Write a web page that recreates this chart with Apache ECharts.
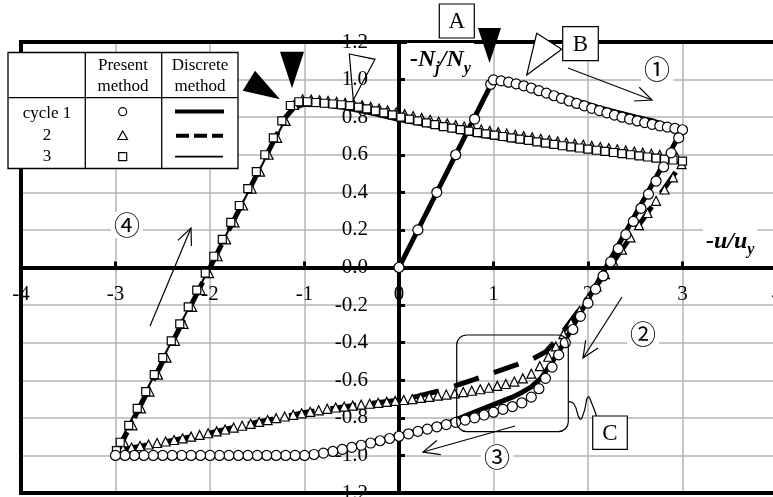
<!DOCTYPE html>
<html>
<head>
<meta charset="utf-8">
<script src="https://cdn.jsdelivr.net/npm/echarts/dist/echarts.min.js"></script>
<style>
html, body { margin: 0; padding: 0; background: #fff; }
#chart { width: 773px; height: 497px; }
</style>
</head>
<body>
<div id="chart"></div>
<script>
// Normalised displacement (-u/uy) and axial force (-Nj/Ny), cycle by cycle.

// Cycle 1, present method (circles)
const c1LoadU = [0, 0.2, 0.4, 0.6, 0.8, 0.97, 1.0];
const c1LoadN = [0, 0.2, 0.4, 0.6, 0.79, 0.975, 0.998];
const c1SoftU = [1.08, 1.16, 1.24, 1.32, 1.40, 1.48, 1.56, 1.64, 1.72, 1.80, 1.88, 1.96, 2.04, 2.12, 2.20, 2.28, 2.36, 2.44, 2.52, 2.60, 2.68, 2.76, 2.84, 2.92, 3.00];
const c1SoftN = [0.993, 0.986, 0.977, 0.967, 0.955, 0.941, 0.928, 0.914, 0.900, 0.886, 0.873, 0.860, 0.847, 0.835, 0.823, 0.811, 0.800, 0.790, 0.780, 0.771, 0.762, 0.754, 0.747, 0.740, 0.733];
const c1UnloadU = [2.96, 2.88, 2.80, 2.72, 2.64, 2.56, 2.48, 2.40, 2.32, 2.24, 2.16, 2.08, 2.00, 1.92, 1.84, 1.76, 1.69, 1.62, 1.55, 1.48, 1.40, 1.30, 1.20, 1.10, 1.00, 0.90, 0.80, 0.70, 0.60, 0.50, 0.40, 0.30, 0.20, 0.10, 0.00, -0.10, -0.20, -0.30, -0.40, -0.50, -0.60, -0.70, -0.80, -0.90];
const c1UnloadN = [0.69, 0.61, 0.535, 0.46, 0.39, 0.315, 0.245, 0.175, 0.10, 0.03, -0.045, -0.115, -0.19, -0.26, -0.33, -0.40, -0.465, -0.53, -0.59, -0.645, -0.69, -0.72, -0.74, -0.755, -0.77, -0.785, -0.80, -0.812, -0.824, -0.836, -0.848, -0.86, -0.872, -0.885, -0.898, -0.91, -0.922, -0.934, -0.946, -0.957, -0.968, -0.979, -0.988, -0.995];
const c1FloorU = [-1.0, -1.1, -1.2, -1.3, -1.4, -1.5, -1.6, -1.7, -1.8, -1.9, -2.0, -2.1, -2.2, -2.3, -2.4, -2.5, -2.6, -2.7, -2.8, -2.9, -3.0];
const c1FloorN = [-1.0, -1.0, -1.0, -1.0, -1.0, -1.0, -1.0, -1.0, -1.0, -1.0, -1.0, -1.0, -1.0, -1.0, -1.0, -1.0, -1.0, -1.0, -1.0, -1.0, -1.0];

// Cycle 2, present method (triangles)
const c2LeftU = [-2.98, -2.91, -2.82, -2.73, -2.64, -2.55, -2.46, -2.37, -2.28, -2.19, -2.10, -2.01, -1.92, -1.83, -1.74, -1.65, -1.56, -1.47, -1.38, -1.29, -1.20, -1.11];
const c2LeftN = [-0.99, -0.93, -0.84, -0.75, -0.66, -0.57, -0.48, -0.39, -0.30, -0.21, -0.12, -0.03, 0.06, 0.15, 0.24, 0.33, 0.42, 0.51, 0.60, 0.69, 0.78, 0.865];
const c2TopU = [-1.02, -0.93, -0.84, -0.75, -0.66, -0.57, -0.48, -0.39, -0.30, -0.21, -0.12, -0.03, 0.06, 0.15, 0.24, 0.33, 0.42, 0.51, 0.60, 0.69, 0.78, 0.87, 0.96, 1.05, 1.14, 1.23, 1.32, 1.41, 1.50, 1.59, 1.68, 1.77, 1.86, 1.95, 2.04, 2.13, 2.22, 2.31, 2.40, 2.49, 2.58, 2.67, 2.76, 2.85, 2.94];
const c2TopN = [0.895, 0.894, 0.89, 0.886, 0.881, 0.876, 0.87, 0.863, 0.855, 0.846, 0.836, 0.826, 0.816, 0.806, 0.796, 0.786, 0.776, 0.767, 0.758, 0.75, 0.742, 0.734, 0.727, 0.72, 0.713, 0.706, 0.699, 0.692, 0.685, 0.678, 0.671, 0.665, 0.659, 0.653, 0.647, 0.641, 0.635, 0.629, 0.623, 0.617, 0.611, 0.605, 0.599, 0.593, 0.587];
const c2DownU = [2.99, 2.90, 2.81, 2.72, 2.63, 2.54, 2.45, 2.36, 2.27, 2.18, 2.09, 2.00, 1.91, 1.82, 1.74, 1.66, 1.58, 1.49, 1.40, 1.31, 1.22, 1.13, 1.04, 0.95, 0.86, 0.77, 0.68, 0.59, 0.50, 0.41, 0.32, 0.23, 0.14, 0.05, -0.04, -0.13, -0.22, -0.31, -0.40, -0.49, -0.58, -0.67, -0.76, -0.85, -0.94, -1.03, -1.12, -1.21, -1.30, -1.39, -1.48, -1.57, -1.66, -1.75, -1.84, -1.93, -2.02, -2.11, -2.20, -2.29, -2.38, -2.47, -2.56, -2.65, -2.74, -2.83, -2.92, -2.99];
const c2DownN = [0.55, 0.48, 0.415, 0.355, 0.29, 0.225, 0.16, 0.095, 0.03, -0.035, -0.10, -0.165, -0.23, -0.295, -0.355, -0.42, -0.475, -0.525, -0.565, -0.59, -0.607, -0.62, -0.63, -0.64, -0.648, -0.656, -0.663, -0.67, -0.676, -0.682, -0.688, -0.694, -0.70, -0.705, -0.71, -0.715, -0.72, -0.725, -0.73, -0.735, -0.74, -0.745, -0.752, -0.76, -0.768, -0.776, -0.784, -0.793, -0.802, -0.812, -0.822, -0.832, -0.842, -0.852, -0.862, -0.872, -0.882, -0.891, -0.90, -0.909, -0.918, -0.926, -0.934, -0.942, -0.95, -0.958, -0.967, -0.975];

// Cycle 3, present method (squares)
const c3LeftU = [-2.99, -2.95, -2.86, -2.77, -2.68, -2.59, -2.50, -2.41, -2.32, -2.23, -2.14, -2.05, -1.96, -1.87, -1.78, -1.69, -1.60, -1.51, -1.42, -1.33, -1.24, -1.15];
const c3LeftN = [-0.975, -0.93, -0.84, -0.75, -0.66, -0.57, -0.48, -0.39, -0.30, -0.21, -0.12, -0.03, 0.06, 0.15, 0.24, 0.33, 0.42, 0.51, 0.60, 0.69, 0.78, 0.862];
const c3TopU = [-1.06, -0.97, -0.88, -0.79, -0.70, -0.61, -0.52, -0.43, -0.34, -0.25, -0.16, -0.07, 0.02, 0.11, 0.20, 0.29, 0.38, 0.47, 0.56, 0.65, 0.74, 0.83, 0.92, 1.01, 1.10, 1.19, 1.28, 1.37, 1.46, 1.55, 1.64, 1.73, 1.82, 1.91, 2.00, 2.09, 2.18, 2.27, 2.36, 2.45, 2.54, 2.63, 2.72, 2.81, 2.90, 3.00];
const c3TopN = [0.882, 0.882, 0.878, 0.874, 0.870, 0.866, 0.861, 0.853, 0.844, 0.834, 0.823, 0.812, 0.80, 0.79, 0.78, 0.77, 0.76, 0.75, 0.742, 0.734, 0.726, 0.718, 0.711, 0.704, 0.697, 0.69, 0.683, 0.676, 0.669, 0.662, 0.655, 0.648, 0.642, 0.636, 0.63, 0.624, 0.618, 0.612, 0.606, 0.60, 0.594, 0.588, 0.582, 0.577, 0.572, 0.566];

// Discrete method curves
const d1U = [0, 1.0, 1.1, 1.3, 1.5, 1.7, 1.9, 2.1, 2.3, 2.5, 2.7, 2.9, 3.0, 2.6, 2.2, 1.9, 1.7, 1.6, 1.5, 1.4, 1.3, 1.2, 1.0, 0.8, 0.6, 0.5, 0.3, 0.1, -0.1, -0.3, -0.5, -0.7, -0.9, -1.1, -3.0];
const d1N = [0, 1.0, 0.993, 0.972, 0.945, 0.915, 0.883, 0.853, 0.826, 0.801, 0.778, 0.745, 0.735, 0.37, 0.01, -0.26, -0.44, -0.52, -0.59, -0.635, -0.665, -0.69, -0.73, -0.77, -0.81, -0.83, -0.858, -0.883, -0.908, -0.932, -0.955, -0.977, -0.993, -1.0, -1.0];
const d2U = [-3.0, -1.2, -1.1, -1.0, -0.8, -0.5, 0, 0.5, 1.0, 1.5, 2.0, 2.5, 3.0, 2.6, 2.2, 1.9, 1.7, 1.55, 1.4, 1.2, 1.0, 0.8, 0.6, 0.4, 0.2, 0, -0.5, -1.0, -1.5, -2.0, -2.5, -3.0];
const d2N = [-1.0, 0.80, 0.86, 0.875, 0.87, 0.85, 0.79, 0.745, 0.705, 0.668, 0.633, 0.60, 0.56, 0.27, -0.02, -0.23, -0.365, -0.45, -0.49, -0.525, -0.56, -0.595, -0.628, -0.66, -0.685, -0.705, -0.735, -0.772, -0.823, -0.88, -0.93, -0.975];
const d3U = [-3.0, -1.2, -1.1, -1.0, -0.8, -0.6, -0.3, 0, 0.3, 0.65, 1.0, 1.5, 2.0, 2.5, 3.0];
const d3N = [-0.975, 0.79, 0.845, 0.86, 0.858, 0.845, 0.815, 0.78, 0.752, 0.715, 0.685, 0.65, 0.615, 0.585, 0.555];

// Axis ranges
const uMin = -4, uMax = 4, uStep = 1;
const nMin = -1.2, nMax = 1.2, nStep = 0.2;

const zip = (u, n) => u.map((v, i) => [v, n[i]]);
const cycle1 = [].concat(zip(c1LoadU, c1LoadN), zip(c1SoftU, c1SoftN), zip(c1UnloadU, c1UnloadN), zip(c1FloorU, c1FloorN));
const cycle2 = [].concat(zip(c2LeftU, c2LeftN), zip(c2TopU, c2TopN), zip(c2DownU, c2DownN));
const cycle3 = [].concat(zip(c3LeftU, c3LeftN), zip(c3TopU, c3TopN));

const SERIF = "'Liberation Serif', 'Times New Roman', serif";
const CIRC = "'Noto Sans CJK JP', 'DejaVu Sans', sans-serif";

// Plot frame; the axes cross at the origin, so they are shifted in from the frame edges.
const gridBox = { left: 21, top: 42, width: 756, height: 451 };
const xAxisShift = -gridBox.height * (0 - nMin) / (nMax - nMin);
const yAxisShift = -gridBox.width * (0 - uMin) / (uMax - uMin);

const chart = echarts.init(document.getElementById('chart'));

function arrow(x1, y1, x2, y2, head) {
  const ang = Math.atan2(y2 - y1, x2 - x1);
  const a1 = ang + Math.PI - 0.42, a2 = ang + Math.PI + 0.42;
  return [
    { type: 'line', z: 60, shape: { x1, y1, x2, y2 }, style: { stroke: '#000', lineWidth: 1.2 } },
    { type: 'polyline', z: 60, shape: { points: [[x2 + head * Math.cos(a1), y2 + head * Math.sin(a1)], [x2, y2], [x2 + head * Math.cos(a2), y2 + head * Math.sin(a2)]] },
      style: { stroke: '#000', fill: null, lineWidth: 1.2 } }
  ];
}
function boxLabel(x, y, w, h, t) {
  return [
    { type: 'rect', z: 60, shape: { x, y, width: w, height: h }, style: { fill: '#fff', stroke: '#000', lineWidth: 1.2 } },
    { type: 'text', z: 61, x: x + w / 2, y: y + h / 2 + 1, style: { text: t, font: '23px ' + SERIF, fill: '#000', align: 'center', verticalAlign: 'middle' } }
  ];
}
function circled(x, y, t) {
  return { type: 'text', z: 55, x, y, style: { text: t, font: '26px ' + CIRC, fill: '#000', align: 'center', verticalAlign: 'middle', backgroundColor: '#fff', padding: [0, 3] } };
}
function txt(x, y, t, size) {
  return { type: 'text', z: 71, x, y, style: { text: t, font: size + 'px ' + SERIF, fill: '#000', align: 'center', verticalAlign: 'middle' } };
}

// Key table in the upper-left corner
const keyTable = [
  { type: 'rect', z: 70, shape: { x: 8, y: 52.5, width: 230, height: 116 }, style: { fill: '#fff', stroke: '#000', lineWidth: 1.3 } },
  { type: 'line', z: 71, shape: { x1: 85.3, y1: 52.5, x2: 85.3, y2: 168.5 }, style: { stroke: '#000', lineWidth: 1.3 } },
  { type: 'line', z: 71, shape: { x1: 161.7, y1: 52.5, x2: 161.7, y2: 168.5 }, style: { stroke: '#000', lineWidth: 1.3 } },
  { type: 'line', z: 71, shape: { x1: 8, y1: 97.7, x2: 238, y2: 97.7 }, style: { stroke: '#000', lineWidth: 1.3 } },
  txt(123, 66, 'Present', 17), txt(123, 87, 'method', 17),
  txt(200, 66, 'Discrete', 17), txt(200, 87, 'method', 17),
  txt(47, 114, 'cycle 1', 17), txt(47, 136, '2', 17), txt(47, 157, '3', 17),
  { type: 'circle', z: 71, shape: { cx: 122.7, cy: 111.7, r: 4 }, style: { fill: '#fff', stroke: '#000', lineWidth: 1.2 } },
  { type: 'polygon', z: 71, shape: { points: [[122.7, 131], [127.5, 139.5], [117.9, 139.5]] }, style: { fill: '#fff', stroke: '#000', lineWidth: 1.2 } },
  { type: 'rect', z: 71, shape: { x: 118.7, y: 152.7, width: 8, height: 8 }, style: { fill: '#fff', stroke: '#000', lineWidth: 1.2 } },
  { type: 'line', z: 71, shape: { x1: 175, y1: 111.5, x2: 224, y2: 111.5 }, style: { stroke: '#000', lineWidth: 4 } },
  { type: 'line', z: 71, shape: { x1: 176, y1: 135.7, x2: 223, y2: 135.7 }, style: { stroke: '#000', lineWidth: 4, lineDash: [13, 5] } },
  { type: 'line', z: 71, shape: { x1: 175, y1: 156.7, x2: 223, y2: 156.7 }, style: { stroke: '#000', lineWidth: 1.8 } }
];

// Axis titles with subscripts
const axisTitles = [
  { type: 'text', z: 50, x: 407, y: 43, style: {
      text: '{m|-N}{s|j}{m|/N}{s|y}', backgroundColor: '#fff', padding: [0, 3, 2, 3],
      rich: {
        m: { font: 'italic bold 24px ' + SERIF, lineHeight: 34, fill: '#000' },
        s: { font: 'italic bold 16px ' + SERIF, lineHeight: 16, verticalAlign: 'bottom', fill: '#000' }
      } } },
  { type: 'text', z: 50, x: 703, y: 226, style: {
      text: '{m|-u/u}{s|y}', backgroundColor: '#fff', padding: [0, 3, 2, 3],
      rich: {
        m: { font: 'italic bold 24px ' + SERIF, lineHeight: 32, fill: '#000' },
        s: { font: 'italic bold 16px ' + SERIF, lineHeight: 16, verticalAlign: 'bottom', fill: '#000' }
      } } }
];

// Pointers, callouts and loading-direction arrows
const notes = [].concat(
  boxLabel(439.3, 4, 35, 34, 'A'),
  boxLabel(562.7, 26.7, 35.6, 34, 'B'),
  boxLabel(592.7, 416, 34.6, 33.3, 'C'),
  [
    { type: 'polygon', z: 60, shape: { points: [[478, 28], [501, 28], [489.5, 63]] }, style: { fill: '#000' } },
    { type: 'polygon', z: 60, shape: { points: [[280, 51.7], [304, 51.7], [292, 88.3]] }, style: { fill: '#000' } },
    { type: 'polygon', z: 60, shape: { points: [[255, 70.7], [242.7, 90.7], [280, 99.3]] }, style: { fill: '#000' } },
    { type: 'polygon', z: 60, shape: { points: [[536.7, 33.3], [561.7, 49.3], [526.7, 75]] }, style: { fill: '#fff', stroke: '#000', lineWidth: 1.2 } },
    { type: 'polygon', z: 60, shape: { points: [[349.3, 54], [375, 59.3], [353.3, 100]] }, style: { fill: null, stroke: '#000', lineWidth: 1.2 } },
    { type: 'rect', z: 60, shape: { x: 456.7, y: 335, width: 111.6, height: 96.7, r: 10 }, style: { fill: null, stroke: '#000', lineWidth: 1.2 } },
    { type: 'polyline', z: 60, shape: { points: [[568.3, 401.7], [574, 404], [580, 419], [584, 412], [588, 397], [592, 404], [596.5, 416]], smooth: 0.5 },
      style: { fill: null, stroke: '#000', lineWidth: 1.2 } }
  ],
  arrow(568, 68, 652, 100, 18),
  arrow(622, 297, 583, 358, 18),
  arrow(515, 426, 423, 452, 18),
  arrow(150, 326, 191, 228, 18),
  [circled(657, 69, '①'), circled(643, 334, '②'), circled(497, 457, '③'), circled(127, 225, '④')]
);

function markerSeries(name, data, symbol, size, z) {
  return {
    name, type: 'scatter', data, symbol, symbolSize: size, z,
    itemStyle: { color: '#fff', borderColor: '#000', borderWidth: 1.2, opacity: 1 },
    emphasis: { disabled: true }, silent: true
  };
}
function lineSeries(name, data, width, dash) {
  return {
    name, type: 'line', data, showSymbol: false, symbol: 'none', z: 2, silent: true,
    lineStyle: { color: '#000', width, type: dash || 'solid' }
  };
}

chart.setOption({
  animation: false,
  backgroundColor: '#fff',
  grid: Object.assign({ show: true, borderColor: '#000', borderWidth: 4, backgroundColor: 'transparent', z: 8,
    containLabel: false, outerBoundsMode: 'none' }, gridBox),
  xAxis: {
    type: 'value', min: uMin, max: uMax, interval: uStep,
    position: 'bottom', offset: xAxisShift,
    axisLine: { onZero: false, lineStyle: { color: '#000', width: 4 } },
    axisTick: { show: true, inside: true, length: 6, lineStyle: { color: '#000', width: 3 } },
    axisLabel: { margin: 16, color: '#000', fontFamily: SERIF, fontSize: 21, showMinLabel: true, showMaxLabel: true, hideOverlap: false },
    splitLine: { show: true, lineStyle: { color: '#b4b4b4', width: 1.5 } }
  },
  yAxis: {
    type: 'value', min: nMin, max: nMax, interval: nStep,
    position: 'left', offset: yAxisShift,
    axisLine: { onZero: false, lineStyle: { color: '#000', width: 4 } },
    axisTick: { show: true, inside: true, length: 6, lineStyle: { color: '#000', width: 3 } },
    axisLabel: { margin: 31, color: '#000', fontFamily: SERIF, fontSize: 21, hideOverlap: false,
      formatter: v => (Math.abs(v) < 1e-9 ? 0 : v).toFixed(1) },
    splitLine: { show: true, lineStyle: { color: '#b4b4b4', width: 1.5 } }
  },
  series: [
    lineSeries('cycle 1 discrete', zip(d1U, d1N), 5),
    lineSeries('cycle 2 discrete', zip(d2U, d2N), 5, [26, 16]),
    lineSeries('cycle 3 discrete', zip(d3U, d3N), 2),
    markerSeries('cycle 2 present', cycle2, 'triangle', 9, 3),
    markerSeries('cycle 3 present', cycle3, 'rect', 8, 4),
    markerSeries('cycle 1 present', cycle1, 'circle', 10, 5)
  ],
  graphic: { elements: [].concat(keyTable, axisTitles, notes) }
});
</script>
</body>
</html>
